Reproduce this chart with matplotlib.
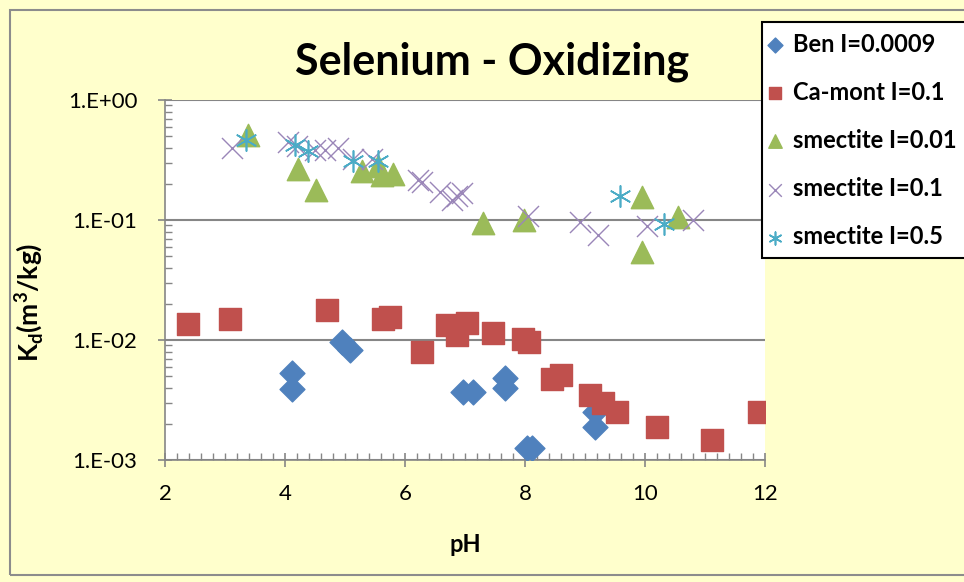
import numpy as np
import matplotlib.pyplot as plt
from matplotlib.patches import Rectangle
from matplotlib.ticker import LogLocator, FixedLocator, NullFormatter, FuncFormatter

plt.rcParams['font.family'] = ['Lato', 'DejaVu Sans']

# Kd (m3/kg) against pH for each sorbent
ben_ph = [4.12, 4.12, 4.95, 5.08, 6.97, 7.13, 7.67, 7.67, 8.03, 8.12, 9.17, 9.17]
ben_kd = [0.0053, 0.0039, 0.0096, 0.0083, 0.0037, 0.0037, 0.0048, 0.0040, 0.00125, 0.00125, 0.0025, 0.0019]

camont_ph = [2.38, 3.08, 4.7, 5.63, 5.75, 6.28, 6.7, 6.87, 7.03, 7.47, 7.97, 8.07, 8.45, 8.6,
             9.08, 9.3, 9.53, 10.2, 11.12, 11.9]
camont_kd = [0.0136, 0.0150, 0.0178, 0.0150, 0.0155, 0.0079, 0.0133, 0.0110, 0.0138, 0.0114,
             0.0102, 0.0096, 0.0047, 0.0051, 0.0035, 0.0030, 0.0025, 0.0019, 0.00147, 0.0025]

sm001_ph = [3.38, 4.22, 4.52, 5.28, 5.55, 5.62, 5.8, 7.3, 7.98, 9.95, 9.95, 10.55]
sm001_kd = [0.51, 0.266, 0.178, 0.257, 0.28, 0.237, 0.24, 0.094, 0.10, 0.155, 0.054, 0.106]

sm01_ph = [3.12, 4.05, 4.2, 4.5, 4.67, 4.88, 5.13, 5.45, 6.22, 6.28, 6.58, 6.78, 6.87, 6.95,
           8.05, 8.92, 9.22, 10.03, 10.8]
sm01_kd = [0.40, 0.45, 0.41, 0.38, 0.38, 0.40, 0.32, 0.32, 0.215, 0.207, 0.172, 0.148, 0.16,
           0.168, 0.107, 0.097, 0.075, 0.089, 0.10]

sm05_ph = [3.35, 4.17, 4.38, 5.13, 5.55, 9.58, 10.32]
sm05_kd = [0.46, 0.42, 0.376, 0.31, 0.31, 0.158, 0.093]

bg = '#FFFFCC'
fig = plt.figure(figsize=(9.64, 5.82), dpi=100, facecolor=bg)

# outer chart frame
fig.patches.append(Rectangle((10 / 964, 1 - 575 / 582), 1, (575 - 10) / 582,
                             transform=fig.transFigure, facecolor='none',
                             edgecolor='#8C8C8C', linewidth=1.5, zorder=0))

ax = fig.add_axes([165 / 964, 1 - 460 / 582, 600 / 964, 360 / 582])
ax.set_facecolor('white')

ax.scatter(ben_ph, ben_kd, marker='D', s=160, color='#4F81BD', label='Ben I=0.0009', zorder=3)
ax.scatter(camont_ph, camont_kd, marker='s', s=230, color='#C0504D', label='Ca-mont I=0.1', zorder=3)
ax.scatter(sm001_ph, sm001_kd, marker='^', s=260, color='#9BBB59', label='smectite I=0.01', zorder=3)
ax.scatter(sm01_ph, sm01_kd, marker='x', s=230, color='#9A86B8', linewidths=1.0,
           label='smectite I=0.1', zorder=3)
ax.scatter(sm05_ph, sm05_kd, marker=(6, 2, 0), s=230, color='#4BACC6', linewidths=1.2,
           label='smectite I=0.5', zorder=3)

ax.set_yscale('log')
ax.set_xlim(2, 12)
ax.set_ylim(1e-3, 1)
ax.yaxis.set_major_locator(LogLocator(base=10, numticks=10))
ax.yaxis.set_minor_locator(LogLocator(base=10, subs=np.arange(2, 10), numticks=10))
ax.yaxis.set_minor_formatter(NullFormatter())
ax.yaxis.set_major_formatter(FuncFormatter(
    lambda v, p: '1.E+00' if v >= 1 else '1.E-%02d' % round(-np.log10(v))))
ax.set_xticks([2, 4, 6, 8, 10, 12])
ax.xaxis.set_minor_locator(FixedLocator(np.arange(2, 12.01, 0.2)))

ax.grid(True, which='major', axis='y', color='#868686', linewidth=1.5)
ax.set_axisbelow(True)
for side in ['top', 'right']:
    ax.spines[side].set_visible(False)
for side in ['left', 'bottom']:
    ax.spines[side].set_color('#868686')
    ax.spines[side].set_linewidth(1.2)

ax.tick_params(which='major', direction='inout', length=10, width=1.2, color='#868686',
               labelsize=16)
ax.tick_params(which='minor', direction='in', length=5, width=1.0, color='#868686')
ax.tick_params(axis='x', pad=12)
ax.tick_params(axis='y', pad=15)

ax.set_xlabel('pH', fontsize=17, fontweight='bold')
ax.xaxis.set_label_coords(0.5, -(533 - 460) / 360)
ax.set_ylabel(r'K$_\mathregular{d}$(m$^\mathregular{3}$/kg)', fontsize=19, fontweight='bold')
ax.yaxis.set_label_coords((46 - 165) / 600, (460 - 302) / 360)

fig.text(492 / 964, 1 - 62 / 582, 'Selenium - Oxidizing', fontsize=31, fontweight='bold',
         ha='center', va='center')

leg = fig.legend(loc='upper left', bbox_to_anchor=(762 / 964, 1 - 22 / 582), borderaxespad=0,
                 frameon=True, fancybox=False, edgecolor='black', framealpha=1,
                 prop={'weight': 'bold', 'size': 17}, handletextpad=0.65, handlelength=0.2,
                 labelspacing=1.06, borderpad=0.45, markerscale=0.6)
leg.get_frame().set_linewidth(1.5)

fig.savefig('out.png', dpi=100, facecolor=bg)
